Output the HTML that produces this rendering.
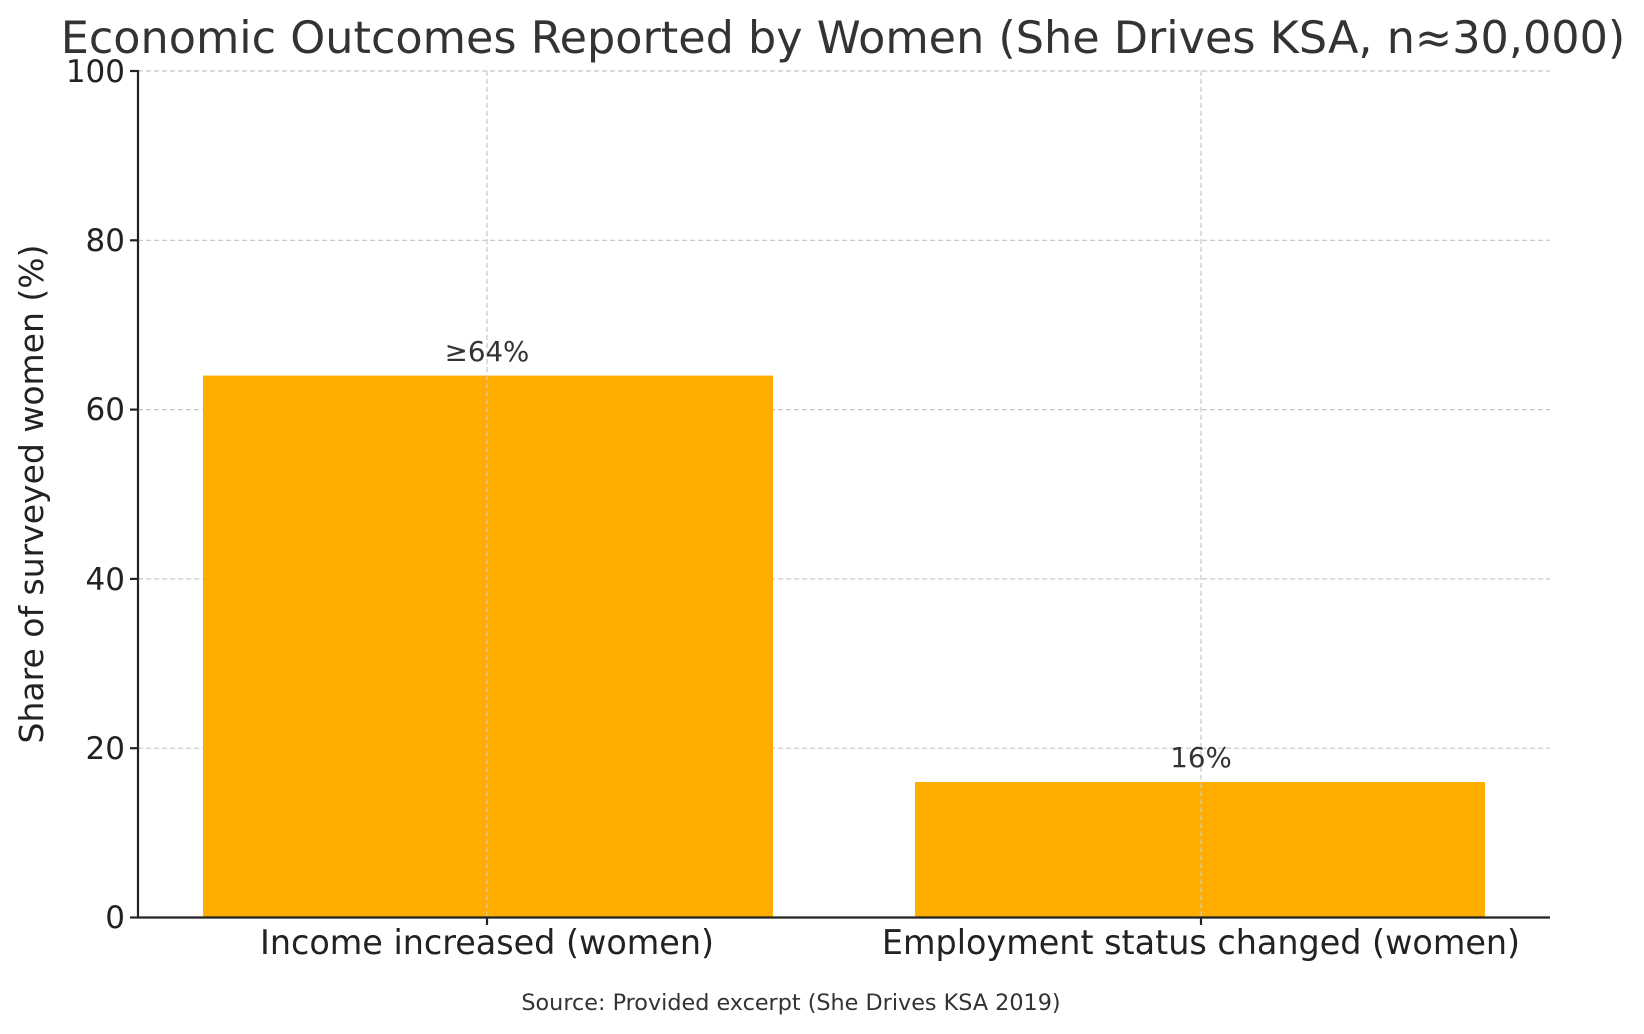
<!DOCTYPE html>
<html><head><style>body{margin:0;background:#fff}svg{display:block}</style></head><body>
<svg width="1644" height="1034" xmlns="http://www.w3.org/2000/svg" font-family="DejaVu Sans, Liberation Sans, sans-serif">
<rect width="1644" height="1034" fill="#fff"/>
<g stroke="#c8c8c8" stroke-width="1.2" stroke-dasharray="5,3">
<line x1="138" x2="1550" y1="71" y2="71"/><line x1="138" x2="1550" y1="240.3" y2="240.3"/><line x1="138" x2="1550" y1="409.6" y2="409.6"/><line x1="138" x2="1550" y1="578.9" y2="578.9"/><line x1="138" x2="1550" y1="748.2" y2="748.2"/>
</g>
<rect x="203" y="375.6" width="570" height="541.9" fill="#ffae00"/>
<rect x="915" y="782" width="570" height="135.5" fill="#ffae00"/>
<g stroke="#c8c8c8" stroke-width="1.2" stroke-dasharray="5,3">
<line x1="487" x2="487" y1="71" y2="917"/><line x1="1201" x2="1201" y1="71" y2="917"/>
</g>
<g stroke="#222" stroke-width="2.2"><line x1="138" y1="70" x2="138" y2="918"/><line x1="137" y1="917.5" x2="1550" y2="917.5"/>
<line x1="130" x2="138" y1="71" y2="71"/><line x1="130" x2="138" y1="240.3" y2="240.3"/><line x1="130" x2="138" y1="409.6" y2="409.6"/><line x1="130" x2="138" y1="578.9" y2="578.9"/><line x1="130" x2="138" y1="748.2" y2="748.2"/><line x1="130" x2="138" y1="917.5" y2="917.5"/>
<line x1="487" x2="487" y1="917" y2="925"/><line x1="1201" x2="1201" y1="917" y2="925"/></g>
<g font-size="31" fill="#222" text-anchor="end">
<text x="125" y="82">100</text><text x="125" y="251">80</text><text x="125" y="420">60</text><text x="125" y="590">40</text><text x="125" y="759">20</text><text x="125" y="928">0</text></g>
<g font-size="33.4" fill="#222" text-anchor="middle">
<text x="487" y="954">Income increased (women)</text><text x="1201" y="954">Employment status changed (women)</text></g>
<text transform="translate(43,494) rotate(-90)" font-size="33" fill="#222" text-anchor="middle">Share of surveyed women (%)</text>
<g font-size="27.7" fill="#333" text-anchor="middle"><text x="487" y="361">≥64%</text><text x="1201" y="767">16%</text></g>
<text x="843" y="53" font-size="44.5" fill="#333" text-anchor="middle">Economic Outcomes Reported by Women (She Drives KSA, n≈30,000)</text>
<text x="791" y="1010" font-size="22.3" fill="#333" text-anchor="middle">Source: Provided excerpt (She Drives KSA 2019)</text>
</svg>
</body></html>
